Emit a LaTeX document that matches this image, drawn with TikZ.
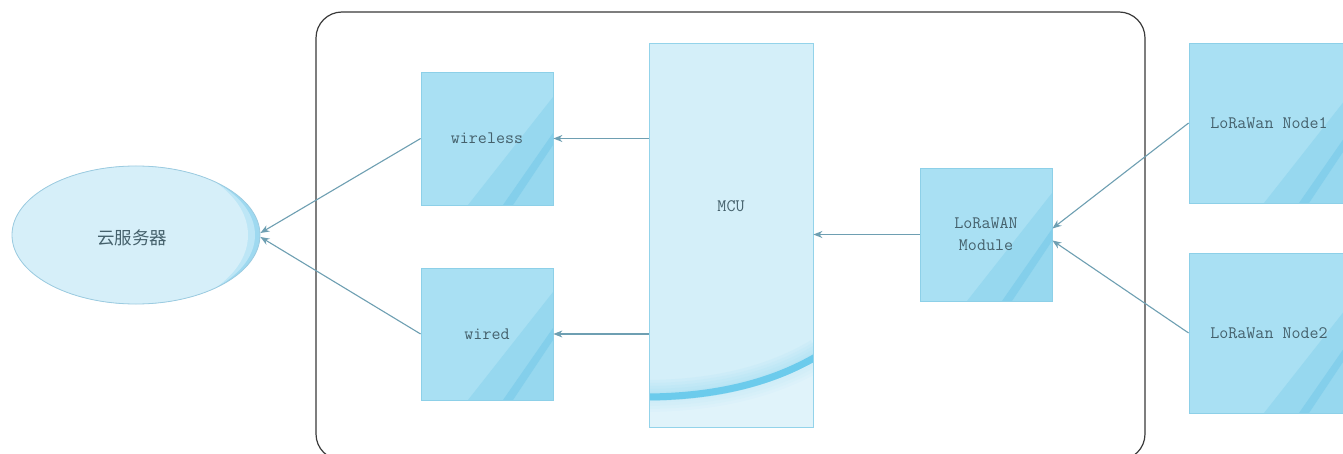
\documentclass[tikz,border=0pt]{standalone}
\usepackage{fontspec}
\newfontfamily\cjk{Noto Sans CJK SC}
\usetikzlibrary{arrows.meta,shapes.geometric}
\definecolor{boxfill}{HTML}{A9E0F3}
\definecolor{boxdark}{HTML}{97D8EF}
\definecolor{boxstripe}{HTML}{84CFEB}
\definecolor{boxedge}{HTML}{8DD0E8}
\definecolor{mcufill}{HTML}{D4EFF9}
\definecolor{mcuedge}{HTML}{93D3EA}
\definecolor{mcuband}{HTML}{6CCBEC}
\definecolor{ellfill}{HTML}{D6EFF9}
\definecolor{elldark}{HTML}{9ED9F0}
\definecolor{ellmid}{HTML}{BDE6F6}
\definecolor{elledge}{HTML}{9CCBE0}
\definecolor{arrowc}{HTML}{6E9FB2}
\definecolor{txt}{HTML}{45616C}
\definecolor{frame}{HTML}{3A3A3A}
\tikzset{
  glass/.style={draw=boxedge, line width=0.8pt, fill=boxfill, inner sep=0pt,
    font=\ttfamily\fontsize{17.5}{22}\selectfont, text=txt, align=center,
    path picture={
      \coordinate (se) at (path picture bounding box.south east);
      \fill[boxdark] ([xshift=-85pt]se) -- ([yshift=108pt]se) -- (se) -- cycle;
      \fill[boxstripe] ([xshift=-50pt]se) -- ([yshift=72pt]se) -- ([yshift=60pt]se) -- ([xshift=-40pt]se) -- cycle;
    }},
  mcuhalo/.style={draw=mcuband, line width=#1, opacity=0.06},
  mcubox/.style={draw=mcuedge, line width=0.8pt, fill=mcufill, inner sep=0pt,
    path picture={
      \coordinate (sw) at (path picture bounding box.south west);
      \foreach \w in {8,14,20,26,32}{
        \draw[mcuhalo=\w pt] ([shift={(-5,-31)}]sw) .. controls ([shift={(60,-31)}]sw) and ([shift={(120,-43)}]sw) .. ([shift={(170,-73)}]sw);
      }
      \fill[white, opacity=0.3] ([shift={(-5,-26)}]sw) .. controls ([shift={(60,-26)}]sw) and ([shift={(120,-38)}]sw) .. ([shift={(170,-68)}]sw) -- ([shift={(170,5)}]sw) -- ([shift={(-5,5)}]sw) -- cycle;
      \draw[line width=7pt, mcuband] ([shift={(-5,-30)}]sw) .. controls ([shift={(60,-30)}]sw) and ([shift={(120,-42)}]sw) .. ([shift={(170,-72)}]sw);
    }},
  cloud/.style={ellipse, draw=elledge, line width=0.8pt, fill=ellfill, inner sep=0pt,
    path picture={
      \coordinate (c) at (path picture bounding box.center);
      \fill[elldark] (c) ellipse [x radius=124, y radius=69];
      \fill[ellmid] ([xshift=-5pt]c) ellipse [x radius=124, y radius=72];
      \fill[ellfill] ([xshift=-12pt]c) ellipse [x radius=124, y radius=78];
    }},
  conn/.style={draw=arrowc, line width=1.1pt, -{Stealth[length=9pt,width=7pt]}},
}
\begin{document}
\begin{tikzpicture}[x=1pt,y=-1pt]
\clip (0,0) rectangle (1343,454);
\fill[white] (0,0) rectangle (1343,454);
\draw[frame, line width=1.2pt, rounded corners=26pt] (316,12) rectangle (1145,460);

\node[cloud, minimum width=248pt, minimum height=138pt] (cloud) at (136,235) {};
\node[font=\cjk\fontsize{17.5}{20}\selectfont, text=txt] (cloudtxt) at (132,238) {云服务器};

\node[glass, minimum width=132pt, minimum height=133pt] (wireless) at (487,138.5) {wireless};
\node[glass, minimum width=132pt, minimum height=132pt] (wired) at (487,334) {wired};
\node[mcubox, minimum width=164pt, minimum height=384pt,
      label={[font=\ttfamily\fontsize{17.5}{20}\selectfont, text=txt, yshift=29pt]center:MCU}] (mcu) at (731,235) {};
\node[glass, minimum width=132pt, minimum height=133pt] (lora) at (986,234.5) {LoRaWAN\\Module};
\node[glass, minimum width=160pt, minimum height=160pt] (node1) at (1269,123) {LoRaWan Node1};
\node[glass, minimum width=160pt, minimum height=160pt] (node2) at (1269,333) {LoRaWan Node2};

\draw[conn] (mcu.west |- wireless.east) -- (wireless.east);
\draw[conn] (mcu.west |- wired.east) -- (wired.east);
\draw[conn] (lora.west) -- (lora.west -| mcu.east);
\draw[conn] (node1.west) -- ([yshift=6pt]lora.east);
\draw[conn] (node2.west) -- ([yshift=-6pt]lora.east);
\draw[conn] (wireless.west) -- ([yshift=2pt]cloud.east);
\draw[conn] (wired.west) -- ([yshift=-2pt]cloud.east);
\end{tikzpicture}
\end{document}
